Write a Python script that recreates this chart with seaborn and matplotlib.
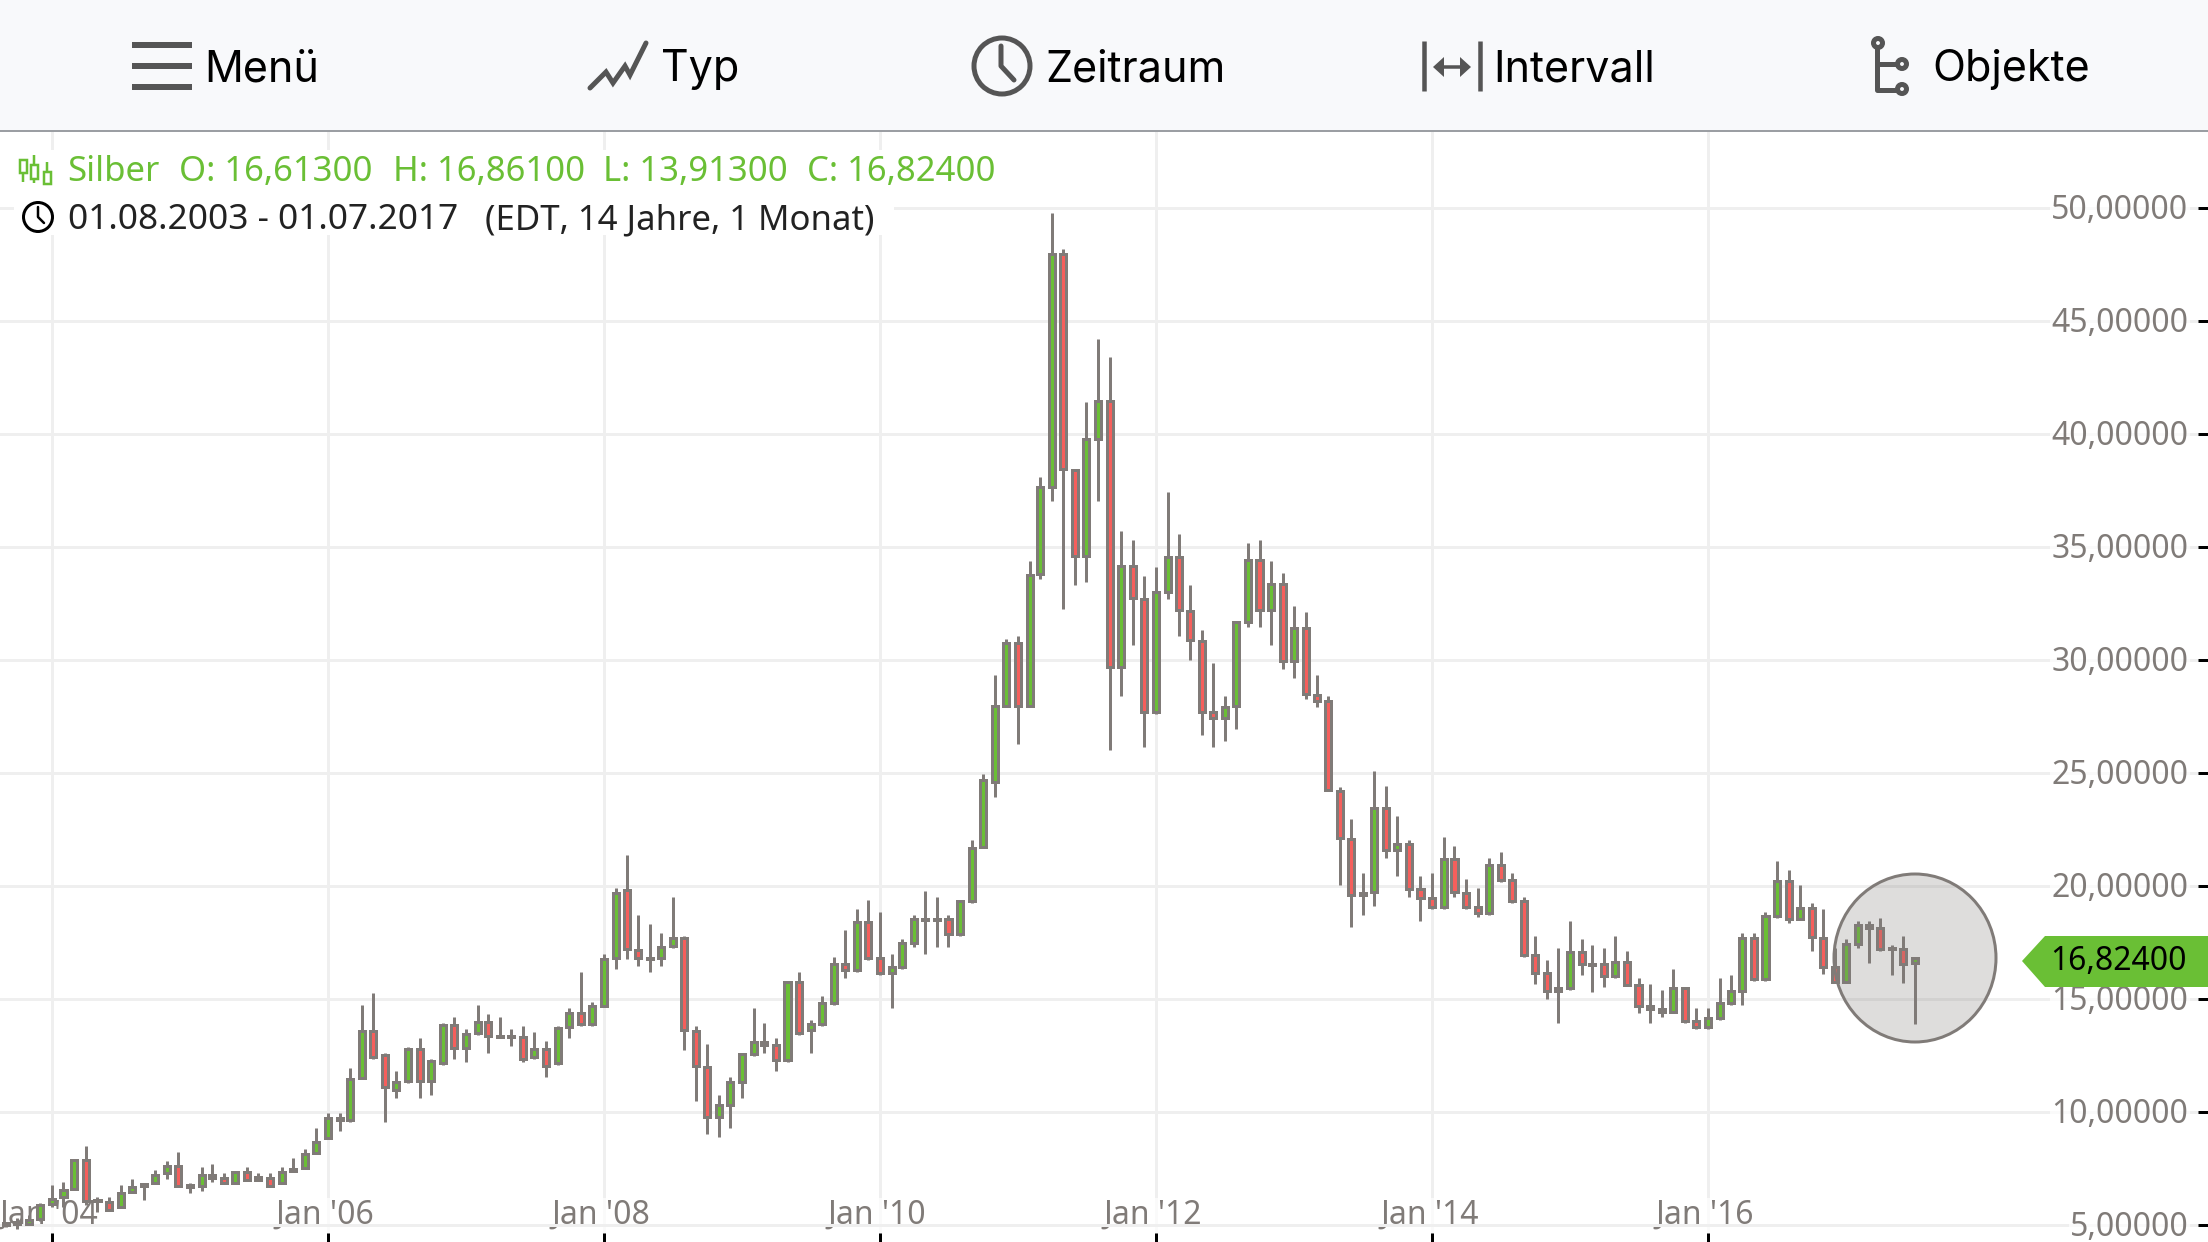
import matplotlib
matplotlib.use('Agg')
import matplotlib.pyplot as plt
from matplotlib.patches import Circle, Ellipse, Polygon, Rectangle
from matplotlib.transforms import ScaledTranslation
import pandas as pd
import seaborn as sns

# Monthly candles, Aug 2003 - Jul 2017
dates = pd.date_range(start='2003-08-01', periods=168, freq='MS')

opens = [
    5.02, 5.0, 5.12, 5.03, 5.25, 5.95, 6.24, 6.61, 7.88, 6.07, 6.02, 5.82,
    6.46, 6.72, 6.86, 7.29, 7.62, 6.69, 6.72, 7.10, 7.08, 6.86, 7.35, 7.0,
    7.08, 6.86, 7.39, 7.53, 8.19, 8.85, 9.64, 9.64, 11.49, 13.6, 12.54, 10.96,
    11.36, 12.81, 11.36, 12.16, 13.87, 12.82, 13.49, 14.0, 13.32, 13.32, 13.34, 12.42,
    12.81, 12.16, 13.75, 14.4, 13.88, 14.69, 16.8, 19.84, 17.19, 16.79, 16.8, 17.33,
    17.72, 13.6, 12.01, 9.77, 10.3, 11.35, 12.56, 12.95, 12.95, 12.29, 15.74, 13.62,
    13.88, 14.81, 16.54, 16.27, 18.4, 16.8, 16.14, 16.41, 17.47, 18.51, 18.51, 18.53,
    17.87, 19.33, 21.72, 24.62, 27.98, 30.73, 27.98, 33.8, 37.65, 47.98, 38.4, 34.59,
    39.76, 41.48, 29.68, 34.18, 32.72, 27.68, 33.0, 34.57, 32.18, 30.86, 27.68, 27.42,
    27.98, 31.68, 34.44, 32.2, 33.38, 29.94, 31.4, 28.47, 28.2, 24.22, 22.08, 19.71,
    19.73, 23.43, 21.58, 21.85, 19.86, 19.46, 19.07, 21.18, 19.71, 19.07, 18.8, 20.91,
    20.25, 19.32, 16.93, 16.14, 15.35, 15.48, 17.06, 16.52, 16.54, 16.01, 16.66, 15.6,
    14.56, 14.42, 14.42, 15.48, 14.02, 13.76, 14.15, 14.81, 15.35, 17.72, 15.88, 18.67,
    20.24, 18.54, 19.04, 17.71, 16.4, 15.75, 17.45, 18.14, 18.13, 17.21, 17.2, 16.613,
]
highs = [
    5.2, 5.15, 5.3, 5.45, 5.96, 6.77, 6.89, 7.88, 8.5, 6.23, 6.23, 6.77,
    7.03, 6.88, 7.42, 7.82, 8.22, 6.88, 7.56, 7.69, 7.29, 7.41, 7.56, 7.29,
    7.29, 7.56, 7.95, 8.35, 9.28, 9.95, 9.95, 11.94, 14.72, 15.26, 12.6, 11.8,
    12.87, 13.26, 12.33, 13.93, 14.19, 13.66, 14.72, 14.33, 14.19, 13.66, 13.8, 13.53,
    13.13, 13.8, 14.59, 16.18, 14.86, 16.98, 19.9, 21.38, 18.71, 18.31, 17.91, 19.5,
    17.78, 13.8, 13.0, 10.76, 11.55, 12.62, 14.61, 13.94, 13.28, 15.8, 16.2, 14.08,
    15.14, 16.86, 18.06, 18.99, 19.39, 18.85, 17.0, 17.66, 18.72, 19.78, 19.52, 18.72,
    19.39, 22.04, 24.95, 29.32, 30.92, 31.05, 34.36, 38.09, 49.78, 48.2, 38.47, 41.42,
    44.2, 43.41, 35.7, 35.31, 33.72, 34.11, 37.44, 35.57, 33.3, 31.33, 29.86, 28.4,
    31.72, 35.18, 35.31, 34.38, 33.85, 32.38, 32.12, 29.32, 28.4, 24.4, 22.97, 20.58,
    25.09, 24.42, 23.09, 22.04, 20.44, 20.58, 22.16, 21.77, 20.31, 19.92, 21.25, 21.5,
    20.58, 19.52, 17.79, 16.73, 17.26, 18.45, 17.66, 17.39, 17.26, 17.79, 17.12, 15.94,
    15.67, 15.4, 16.33, 15.54, 14.61, 14.61, 15.94, 16.06, 17.91, 17.91, 18.83, 21.09,
    20.69, 20.03, 19.23, 18.97, 17.24, 17.64, 18.44, 18.44, 18.57, 17.37, 17.77, 16.861,
]
lows = [
    4.9, 4.93, 4.81, 5.03, 5.17, 5.82, 5.82, 6.61, 5.89, 5.59, 5.62, 5.74,
    6.41, 6.11, 6.8, 7.05, 6.67, 6.41, 6.52, 6.92, 6.8, 6.8, 6.94, 6.94,
    6.67, 6.8, 7.33, 7.47, 8.13, 8.8, 9.18, 9.58, 11.44, 12.36, 9.58, 10.64,
    11.3, 10.64, 10.77, 12.1, 12.36, 12.23, 13.43, 12.63, 13.29, 12.9, 12.23, 12.36,
    11.57, 12.1, 13.29, 13.82, 13.82, 14.63, 16.35, 16.75, 16.48, 16.21, 16.48, 17.27,
    12.76, 10.51, 9.05, 8.91, 9.31, 10.64, 12.5, 12.62, 11.83, 12.23, 13.43, 12.62,
    13.82, 14.75, 15.95, 16.21, 16.74, 16.08, 14.61, 16.35, 17.28, 17.0, 17.28, 17.28,
    17.81, 19.27, 21.66, 23.94, 27.9, 26.29, 27.9, 33.6, 37.05, 32.27, 33.33, 33.46,
    37.05, 26.03, 28.42, 30.66, 26.16, 27.6, 32.68, 31.07, 30.0, 26.7, 26.16, 26.42,
    26.96, 31.48, 31.48, 30.66, 29.6, 29.22, 28.29, 27.9, 24.2, 20.05, 18.2, 18.73,
    19.13, 21.25, 20.46, 19.52, 18.46, 19.0, 19.0, 19.52, 19.0, 18.61, 18.72, 20.19,
    19.27, 16.87, 15.68, 15.02, 13.96, 15.42, 16.08, 15.29, 15.54, 15.95, 15.56, 14.36,
    13.96, 14.21, 14.36, 13.96, 13.69, 13.69, 14.09, 14.75, 14.75, 15.81, 15.8, 18.6,
    18.35, 18.48, 17.14, 16.09, 15.7, 15.7, 17.27, 16.61, 17.14, 16.08, 15.69, 13.913,
]
closes = [
    5.1, 5.09, 5.03, 5.23, 5.87, 6.16, 6.55, 7.88, 6.07, 6.1, 5.68, 6.42,
    6.69, 6.82, 7.23, 7.62, 6.73, 6.76, 7.23, 7.23, 6.86, 7.35, 7.0, 7.11,
    6.72, 7.35, 7.5, 8.16, 8.69, 9.75, 9.75, 11.48, 13.6, 12.42, 11.1, 11.35,
    12.81, 11.36, 12.28, 13.87, 12.82, 13.47, 14.0, 13.35, 13.37, 13.37, 12.36, 12.81,
    12.03, 13.74, 14.4, 13.88, 14.67, 16.79, 19.71, 17.2, 16.8, 16.82, 17.32, 17.72,
    13.62, 12.03, 9.77, 10.3, 11.35, 12.56, 13.09, 13.09, 12.29, 15.74, 13.49, 13.88,
    14.81, 16.54, 16.27, 18.4, 16.8, 16.14, 16.41, 17.47, 18.53, 18.54, 18.54, 17.87,
    19.33, 21.7, 24.7, 27.95, 30.73, 27.98, 33.77, 37.64, 47.98, 38.44, 34.59, 39.76,
    41.48, 29.68, 34.18, 32.74, 27.68, 32.99, 34.57, 32.2, 30.87, 27.68, 27.42, 27.94,
    31.66, 34.44, 32.2, 33.38, 29.94, 31.4, 28.48, 28.2, 24.25, 22.13, 19.59, 19.59,
    23.43, 21.58, 21.85, 19.86, 19.46, 19.07, 21.18, 19.73, 19.07, 18.8, 20.91, 20.25,
    19.33, 16.93, 16.14, 15.35, 15.48, 17.06, 16.54, 16.55, 16.01, 16.66, 15.62, 14.69,
    14.69, 14.56, 15.48, 14.02, 13.76, 14.15, 14.81, 15.35, 17.72, 15.87, 18.66, 20.24,
    18.54, 19.04, 17.74, 16.42, 15.75, 17.45, 18.26, 18.26, 17.2, 17.26, 16.53, 16.824,
]

price_ticks = [5, 10, 15, 20, 25, 30, 35, 40, 45, 50]
price_labels = ['5,00000', '10,00000', '15,00000', '20,00000', '25,00000',
                '30,00000', '35,00000', '40,00000', '45,00000', '50,00000']
year_ticks = pd.to_datetime(['2004-01-01', '2006-01-01', '2008-01-01', '2010-01-01',
                             '2012-01-01', '2014-01-01', '2016-01-01'])
year_labels = ["Jan '04", "Jan '06", "Jan '08", "Jan '10", "Jan '12", "Jan '14", "Jan '16"]

menu_labels = ['Menü', 'Typ', 'Zeitraum', 'Intervall', 'Objekte']
menu_x = [204, 661, 1045, 1493, 1932]
legend_parts = ['Silber', 'O: 16,61300', 'H: 16,86100', 'L: 13,91300', 'C: 16,82400']
legend_x = [67, 179, 393, 603, 807]
range_parts = ['01.08.2003 - 01.07.2017', '(EDT, 14 Jahre, 1 Monat)']
range_x = [68, 485]
last_price = '16,82400'

GREEN = '#6abf35'
RED = '#f55f5c'
STROKE = '#807b78'
GRID = '#efefef'
ICON = '#555555'
PX = 0.72  # one image pixel in points at dpi 100

sns.set_style('white')
plt.rcParams['font.family'] = 'Noto Sans'

fig = plt.figure(figsize=(22.08, 12.42), dpi=100, facecolor='white')
ax = fig.add_axes([0, 0, 1, 1110 / 1242])

# Wicks
wicks = pd.DataFrame({
    'date': list(dates) + list(dates),
    'price': highs + lows,
    'candle': list(range(len(dates))) * 2,
})
sns.lineplot(data=wicks, x='date', y='price', units='candle', estimator=None,
             color=STROKE, linewidth=3 * PX, solid_capstyle='butt', legend=False,
             zorder=3, ax=ax)

# Bodies
bottoms = [min(o, c) for o, c in zip(opens, closes)]
heights = [abs(c - o) for o, c in zip(opens, closes)]
colors = [GREEN if c >= o else RED for o, c in zip(opens, closes)]
ax.bar(dates, heights, bottom=bottoms, width=16, color=colors, edgecolor=STROKE,
       linewidth=3 * PX, zorder=4)

ax.set_xlim(pd.Timestamp('2003-08-17'), pd.Timestamp('2019-08-16'))
ax.set_ylim(4.25, 53.36)
ax.set_xlabel('')
ax.set_ylabel('')
ax.set_axisbelow(True)
ax.grid(True, color=GRID, linewidth=3 * PX)

ax.set_xticks(year_ticks)
ax.set_xticklabels(year_labels)
ax.set_yticks(price_ticks)
ax.set_yticklabels(price_labels)
ax.tick_params(axis='x', direction='in', bottom=True, length=9 * PX, width=3 * PX,
               color='black', pad=-31, labelsize=23, labelcolor=STROKE)
ax.tick_params(axis='y', direction='in', left=False, right=True, labelleft=False,
               labelright=True, length=10 * PX, width=3 * PX, color='black',
               pad=-14, labelsize=23, labelcolor=STROKE)
# small nudges so the labels sit where the app draws them
y_nudge = ScaledTranslation(0, 1.5 / 100, fig.dpi_scale_trans)
x_nudge = ScaledTranslation(-3 / 100, 0, fig.dpi_scale_trans)
for label in ax.get_yticklabels():
    label.set_ha('right')
    label.set_bbox(dict(facecolor='white', edgecolor='none', pad=1, alpha=0.7))
    label.set_transform(label.get_transform() + y_nudge)
for label in ax.get_xticklabels():
    label.set_bbox(dict(facecolor='white', edgecolor='none', pad=1, alpha=0.7))
    label.set_transform(label.get_transform() + x_nudge)
sns.despine(ax=ax, left=True, bottom=True)

# Overlay in image pixels for the app chrome around the chart
ui = fig.add_axes([0, 0, 1, 1], zorder=5)
ui.set_xlim(0, 2208)
ui.set_ylim(1242, 0)
ui.axis('off')

# Marker around the last candle
ui.add_patch(Ellipse((1915, 958), 162, 168, facecolor=(0.5, 0.49, 0.48, 0.26),
                     edgecolor=STROKE, linewidth=3 * PX))

# Last price tag
ui.add_patch(Polygon([(2022, 961), (2045, 936), (2208, 936), (2208, 987), (2045, 987)],
                     closed=True, facecolor=GREEN, edgecolor='none'))
ui.text(2187, 961, last_price, ha='right', va='center', fontsize=23, color='black')

# Header bar
ui.add_patch(Rectangle((0, 0), 2208, 131, facecolor='#f8f9fb', edgecolor='none'))
ui.plot([0, 2208], [131, 131], color='#9b9ea3', linewidth=2 * PX)
for x, label in zip(menu_x, menu_labels):
    ui.text(x, 70, label, ha='left', va='center', fontsize=31, color='black',
            family='Inter')

# Menu icon
for y in [45, 66, 87]:
    ui.plot([132, 192], [y, y], color=ICON, linewidth=6 * PX, solid_capstyle='butt')

# Type icon
ui.plot([590, 606, 613, 625, 630, 646], [88, 72, 83, 66, 75, 43], color=ICON,
        linewidth=5 * PX, solid_joinstyle='miter')

# Clock icon
ui.add_patch(Circle((1002, 66), 28, facecolor='none', edgecolor=ICON, linewidth=5 * PX))
ui.plot([1001, 1001, 1014], [46, 66, 80], color=ICON, linewidth=5 * PX)

# Interval icon
for x in [1424, 1480]:
    ui.plot([x, x], [41, 91], color=ICON, linewidth=4.5 * PX, solid_capstyle='butt')
ui.plot([1440, 1464], [67, 67], color=ICON, linewidth=3.5 * PX)
ui.add_patch(Polygon([(1433, 67), (1444, 57), (1444, 77)], facecolor=ICON, edgecolor='none'))
ui.add_patch(Polygon([(1471, 67), (1460, 57), (1460, 77)], facecolor=ICON, edgecolor='none'))

# Objects icon
ui.plot([1877, 1877, 1902], [43, 90, 90], color=ICON, linewidth=5 * PX,
        solid_joinstyle='round')
ui.plot([1877, 1902], [64, 64], color=ICON, linewidth=5 * PX)
for x, y in [(1878, 43), (1902, 64), (1902, 89)]:
    ui.add_patch(Circle((x, y), 4.5, facecolor='#f8f9fb', edgecolor=ICON, linewidth=5 * PX,
                        zorder=3))

# White boxes behind the legend rows
ui.add_patch(Rectangle((14, 150), 986, 40, facecolor='white', edgecolor='none'))
ui.add_patch(Rectangle((14, 190), 880, 45, facecolor='white', edgecolor='none'))

for x, label in zip(legend_x, legend_parts):
    ui.text(x, 172, label, ha='left', va='center', fontsize=25, color=GREEN)
ui.text(range_x[0], 220, range_parts[0], ha='left', va='center', fontsize=25.4, color='#222222')
ui.text(range_x[1], 220, range_parts[1], ha='left', va='center', fontsize=25, color='#222222')

# Legend candle icon
for x, top, bottom, high, low in [(23, 160, 173, 160, 182), (34, 165, 179, 155, 183),
                                  (47, 172, 184, 162, 184)]:
    ui.plot([x, x], [high, low], color=GREEN, linewidth=2.5 * PX, solid_capstyle='butt')
    ui.add_patch(Rectangle((x - 3.5, top), 7, bottom - top, facecolor='white',
                           edgecolor=GREEN, linewidth=2.5 * PX, zorder=3))

# Legend clock icon
ui.add_patch(Circle((38, 217), 14.5, facecolor='white', edgecolor='black', linewidth=3 * PX))
ui.plot([38, 38, 44], [207, 217, 223], color='black', linewidth=2.5 * PX)

fig.savefig('out.png', dpi=100)
plt.close(fig)
